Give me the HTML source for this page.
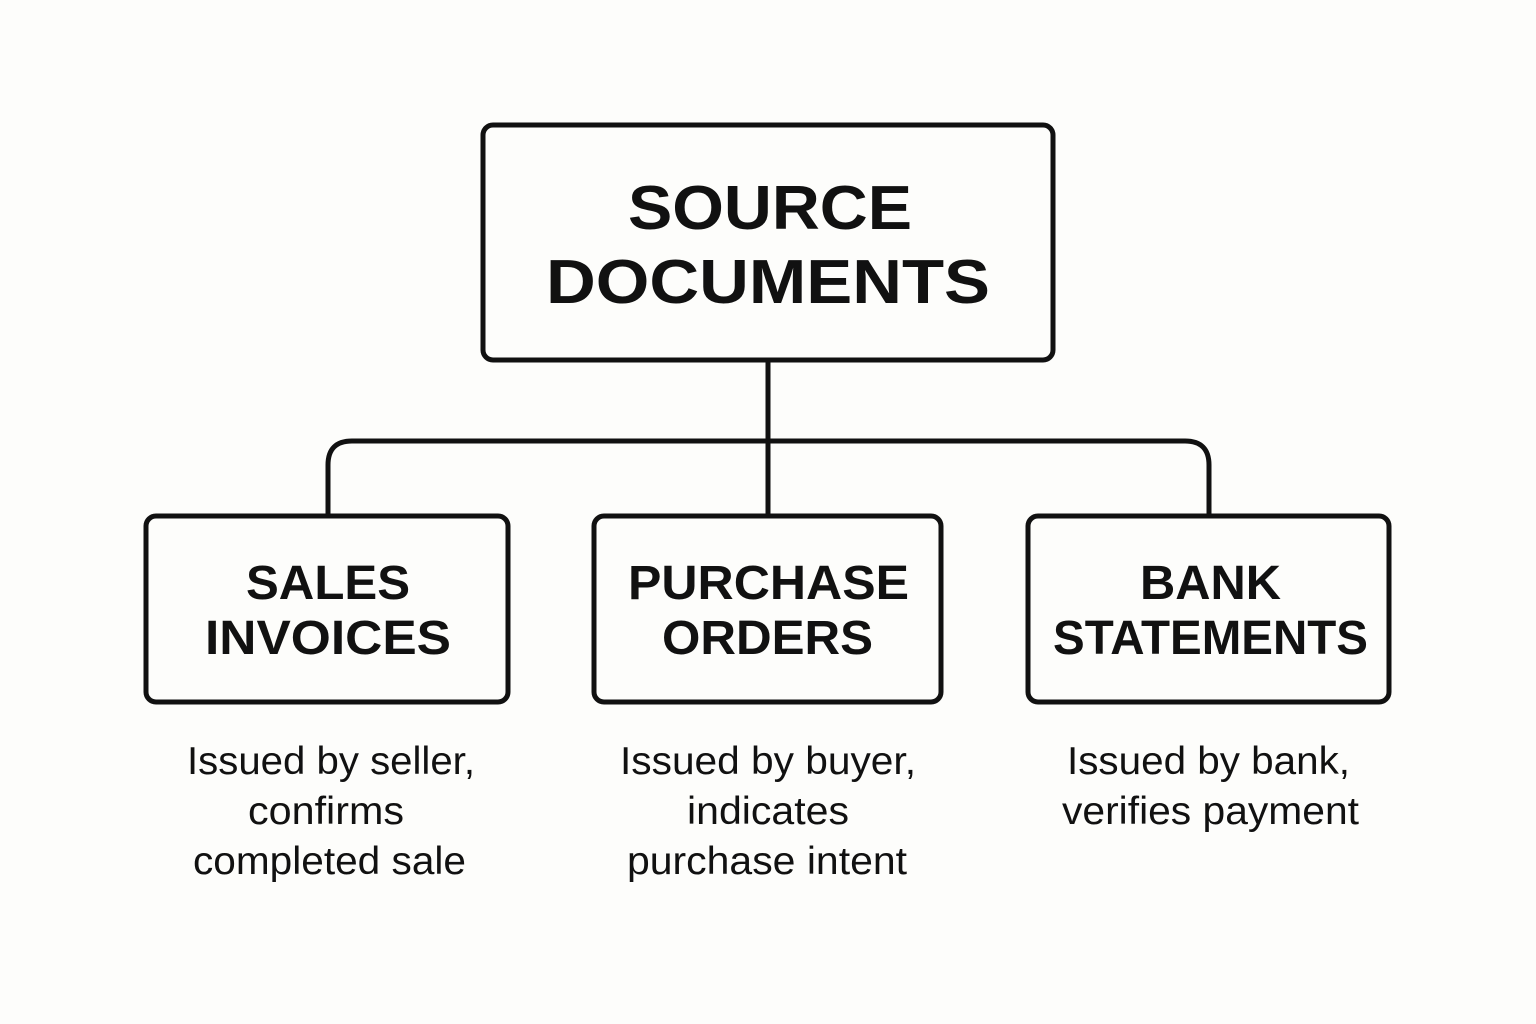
<!DOCTYPE html>
<html><head><style>
body{margin:0;background:#fdfdfb;}
svg{display:block}
.t{font-family:"Liberation Sans",sans-serif;font-weight:bold;fill:#111}
.d{font-family:"Liberation Sans",sans-serif;fill:#111;font-size:39px}
</style></head><body>
<svg width="1536" height="1024" viewBox="0 0 1536 1024">
<rect width="1536" height="1024" fill="#fdfdfb"/>
<g fill="none" stroke="#111" stroke-width="5">
<rect x="483" y="125" width="570" height="235" rx="10"/>
<rect x="146" y="516" width="362" height="186" rx="10"/>
<rect x="594" y="516" width="347" height="186" rx="10"/>
<rect x="1028" y="516" width="361" height="186" rx="10"/>
<path d="M768 360 V516"/>
<path d="M328 516 V465 Q328 441 352 441 H1185 Q1209 441 1209 465 V516"/>
</g>
<g lengthAdjust="spacingAndGlyphs">
<text class="t" x="628" y="229" font-size="62" textLength="284" lengthAdjust="spacingAndGlyphs">SOURCE</text>
<text class="t" x="546" y="303" font-size="62" textLength="444" lengthAdjust="spacingAndGlyphs">DOCUMENTS</text>
<text class="t" x="246" y="599" font-size="48" textLength="164" lengthAdjust="spacingAndGlyphs">SALES</text>
<text class="t" x="205" y="654" font-size="48" textLength="246" lengthAdjust="spacingAndGlyphs">INVOICES</text>
<text class="t" x="628" y="599" font-size="48" textLength="281" lengthAdjust="spacingAndGlyphs">PURCHASE</text>
<text class="t" x="662" y="654" font-size="48" textLength="211" lengthAdjust="spacingAndGlyphs">ORDERS</text>
<text class="t" x="1140" y="599" font-size="48" textLength="141" lengthAdjust="spacingAndGlyphs">BANK</text>
<text class="t" x="1053" y="654" font-size="48" textLength="315" lengthAdjust="spacingAndGlyphs">STATEMENTS</text>
<text class="d" x="187" y="774" textLength="288" lengthAdjust="spacingAndGlyphs">Issued by seller,</text>
<text class="d" x="248" y="824" textLength="156" lengthAdjust="spacingAndGlyphs">confirms</text>
<text class="d" x="193" y="874" textLength="273" lengthAdjust="spacingAndGlyphs">completed sale</text>
<text class="d" x="620" y="774" textLength="296" lengthAdjust="spacingAndGlyphs">Issued by buyer,</text>
<text class="d" x="687" y="824" textLength="162" lengthAdjust="spacingAndGlyphs">indicates</text>
<text class="d" x="627" y="874" textLength="280" lengthAdjust="spacingAndGlyphs">purchase intent</text>
<text class="d" x="1067" y="774" textLength="283" lengthAdjust="spacingAndGlyphs">Issued by bank,</text>
<text class="d" x="1062" y="824" textLength="297" lengthAdjust="spacingAndGlyphs">verifies payment</text>
</g>
</svg>
</body></html>
